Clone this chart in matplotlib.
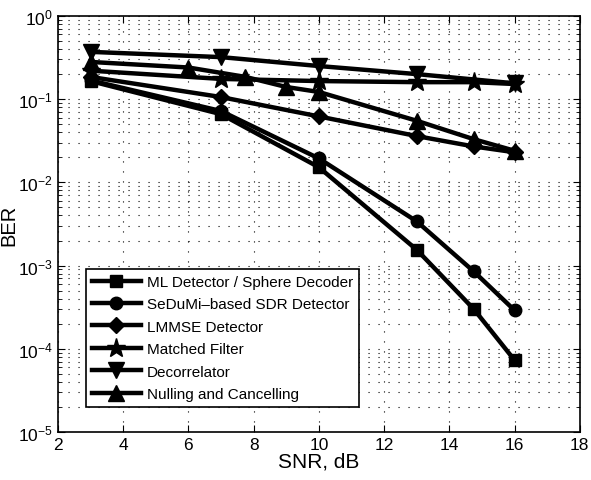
import matplotlib
matplotlib.use("Agg")
import matplotlib.pyplot as plt
import numpy as np

plt.rcParams["font.family"] = ["Liberation Sans", "DejaVu Sans"]

# SNR points (dB)
snr = [3, 7, 10, 13, 14.75, 16]
snr_dec = [3, 7, 10, 13, 16]
snr_nc = [3, 6, 7.75, 9, 10, 13, 14.75, 16]

ber_ml = [0.165, 0.066, 0.0152, 1.55e-3, 3.0e-4, 7.3e-5]
ber_sdr = [0.168, 0.072, 0.0194, 3.4e-3, 8.5e-4, 2.9e-4]
ber_lmmse = [0.185, 0.106, 0.062, 0.036, 0.027, 0.023]
ber_mf = [0.22, 0.175, 0.165, 0.16, 0.16, 0.152]
ber_dec = [0.37, 0.32, 0.25, 0.2, 0.155]
ber_nc = [0.28, 0.24, 0.185, 0.14, 0.122, 0.055, 0.033, 0.024]

labels = [
    "ML Detector / Sphere Decoder",
    "SeDuMi\u2013based SDR Detector",
    "LMMSE Detector",
    "Matched Filter",
    "Decorrelator",
    "Nulling and Cancelling",
]

fig = plt.figure(figsize=(5.91, 4.81), dpi=100)
ax = fig.add_axes([0.098, 0.0998, 0.883, 0.865])

style = dict(color="black", linewidth=3.2, markersize=9)
ax.semilogy(snr, ber_ml, marker="s", label=labels[0], **style)
ax.semilogy(snr, ber_sdr, marker="o", label=labels[1], **style)
ax.semilogy(snr, ber_lmmse, marker="D", label=labels[2], **dict(style, markersize=8))
ax.semilogy(snr, ber_mf, marker="*", label=labels[3], **dict(style, markersize=14))
ax.semilogy(snr_dec, ber_dec, marker="v", label=labels[4], **dict(style, markersize=11))
ax.semilogy(snr_nc, ber_nc, marker="^", label=labels[5], **dict(style, markersize=11))

ax.set_xlim(2, 18)
ax.set_ylim(1e-5, 1)
ax.set_xticks(range(2, 19, 2))
ax.set_yticks([1e-5, 1e-4, 1e-3, 1e-2, 1e-1, 1])

ax.grid(True, which="major", axis="x", linestyle=(0, (1, 8)), color="black", linewidth=0.8)
ax.grid(True, which="both", axis="y", linestyle=(0, (1, 8)), color="black", linewidth=0.8)

ax.tick_params(which="both", direction="in", top=True, right=True, labelsize=12.5)
ax.tick_params(which="major", length=5)
ax.tick_params(which="minor", length=3)
for s in ax.spines.values():
    s.set_linewidth(1.2)

ax.set_xlabel("SNR, dB", fontsize=15, labelpad=0)
ax.set_ylabel("BER", fontsize=14.5, labelpad=0)

leg = ax.legend(loc="lower left", bbox_to_anchor=(0.053, 0.06), fontsize=11,
                fancybox=False, framealpha=1, edgecolor="black",
                handlelength=3.2, labelspacing=0.55, borderpad=0.4,
                handletextpad=0.4, borderaxespad=0)
leg.get_frame().set_linewidth(1.2)

fig.savefig("out.png", dpi=100)
